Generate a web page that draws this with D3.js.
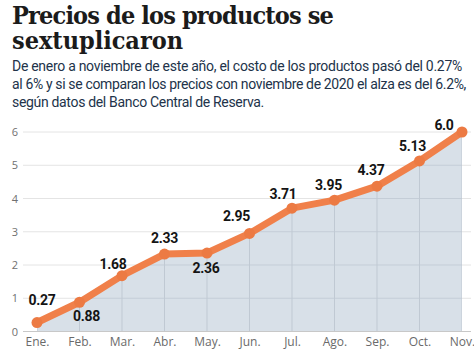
<!DOCTYPE html>
<html><head><meta charset="utf-8">
<script src="https://cdn.jsdelivr.net/npm/d3@7"></script>
<style>
html,body{margin:0;padding:0;background:#fff;}
svg{display:block;}
</style></head>
<body>
<svg id="c" width="474" height="355"></svg>
<script>
const months = ["Ene.","Feb.","Mar.","Abr.","May.","Jun.","Jul.","Ago.","Sep.","Oct.","Nov."];
const values = [0.27,0.88,1.68,2.33,2.36,2.95,3.71,3.95,4.37,5.13,6.0];
const valueLabels = ["0.27","0.88","1.68","2.33","2.36","2.95","3.71","3.95","4.37","5.13","6.0"];
const yTicks = [0,1,2,3,4,5,6];
const titleLines = ["Precios de los productos se","sextuplicaron"];
const subtitleLines = [
  "De enero a noviembre de este año, el costo de los productos pasó del 0.27%",
  "al 6% y si se comparan los precios con noviembre de 2020 el alza es del 6.2%,",
  "según datos del Banco Central de Reserva."
];

// layout (label nudges relative to point, in px)
const labelNudge = [[5,-22],[7,14],[-9,-12],[0,-16],[-1,15],[-13,-17],[-9,-14],[-6,-15],[-6,-16],[-7,-15],[-18,-7]];

const svg = d3.select("#c");
const x = d3.scalePoint().domain(months).range([37,462]);
const y = d3.scaleLinear().domain([0,6]).range([331.5,132]);

function fitWidth(sel, target){
  const n = sel.text().length;
  const w = sel.node().getComputedTextLength();
  sel.attr("letter-spacing", ((target - w) / n).toFixed(3));
}

// title
const titleW = [321,171];
titleLines.forEach((t,i)=>{
  const s = svg.append("text").attr("x",12).attr("y",24+i*25)
    .attr("font-family","DejaVu Serif").attr("font-weight","bold")
    .attr("font-stretch","condensed")
    .attr("font-size",25).attr("fill","#1b1b1b")
    .text(t);
  fitWidth(s, titleW[i]);
});
const subW = [450,454,252];
subtitleLines.forEach((t,i)=>{
  const s = svg.append("text").attr("x",12).attr("y",70.5+i*18)
    .attr("font-family","Roboto").attr("font-size",14).attr("fill","#22334a")
    .text(t);
  fitWidth(s, subW[i]);
});

// horizontal grid
svg.append("g").selectAll("line").data(yTicks.slice(1)).join("line")
  .attr("x1",23).attr("x2",471).attr("y1",d=>y(d)).attr("y2",d=>y(d))
  .attr("stroke","#e4e4e4").attr("stroke-width",1);

// area
const area = d3.area().x((d,i)=>x(months[i])).y0(y(0)).y1(d=>y(d));
svg.append("path").datum(values).attr("d",area).attr("fill","#d8e0e8");

// grid over area
const clipId = "areaClip";
svg.append("clipPath").attr("id",clipId).append("path").datum(values).attr("d",area);
const gOver = svg.append("g").attr("clip-path",`url(#${clipId})`);
gOver.selectAll("line.h").data(yTicks.slice(1)).join("line")
  .attr("x1",23).attr("x2",471).attr("y1",d=>y(d)).attr("y2",d=>y(d))
  .attr("stroke","#c4cdd7").attr("stroke-width",1);
gOver.selectAll("line.v").data(months).join("line")
  .attr("x1",d=>x(d)).attr("x2",d=>x(d)).attr("y1",y(0)).attr("y2",y(6))
  .attr("stroke","#c0c9d3").attr("stroke-width",1);

// baseline
svg.append("line").attr("x1",23).attr("x2",471).attr("y1",y(0)).attr("y2",y(0))
  .attr("stroke","#c8c8c8").attr("stroke-width",1);

// y axis labels
const yAxis = d3.axisLeft(y).tickValues(yTicks).tickSize(0).tickPadding(0).tickFormat(d3.format("d"));
const ya = svg.append("g").attr("transform","translate(18,0)").call(yAxis);
ya.select(".domain").remove();
ya.selectAll("text").attr("font-family","Open Sans").attr("font-size",11).attr("fill","#707070");

// x axis labels
const xAxis = d3.axisBottom(x).tickSize(0).tickPadding(0);
const xa = svg.append("g").attr("transform",`translate(0,${y(0)+6})`).call(xAxis);
xa.select(".domain").remove();
xa.selectAll("text").attr("font-family","Open Sans").attr("font-size",12).attr("fill","#6a6a6a");

// line
const line = d3.line().x((d,i)=>x(months[i])).y(d=>y(d));
svg.append("path").datum(values).attr("d",line).attr("fill","none")
  .attr("stroke","#f0804a").attr("stroke-width",7)
  .attr("stroke-linejoin","round").attr("stroke-linecap","round");
svg.append("g").selectAll("circle").data(values).join("circle")
  .attr("cx",(d,i)=>x(months[i])).attr("cy",d=>y(d)).attr("r",5.5)
  .attr("fill","#ec7a43");

// value labels
svg.append("g").selectAll("text").data(values).join("text")
  .attr("x",(d,i)=>x(months[i])+labelNudge[i][0])
  .attr("y",(d,i)=>y(d)+labelNudge[i][1])
  .attr("dy","0.35em").attr("text-anchor","middle")
  .attr("font-family","Roboto").attr("font-weight","bold").attr("font-size",14)
  .attr("fill","#141414").attr("letter-spacing","-0.3")
  .text((d,i)=>valueLabels[i]);
</script>
</body></html>
